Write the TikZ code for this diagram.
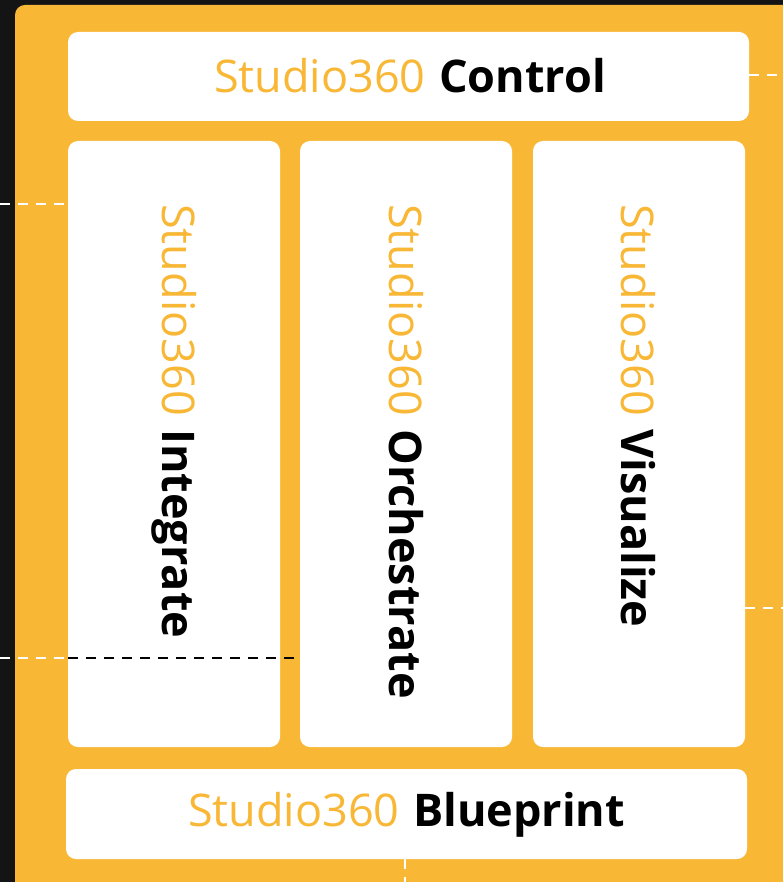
\documentclass[tikz,border=0pt]{standalone}
\usepackage{fontspec}
\newfontfamily\lightfont{Open Sans}
\newfontfamily\heavyfont{Open Sans}
\definecolor{bg}{HTML}{141414}
\definecolor{frame}{HTML}{F9B736}
\definecolor{lbl}{HTML}{F9B736}
\tikzset{
  ttl/.style={inner sep=0pt, font=\fontsize{45}{50}\selectfont},
  link/.style={draw=white, line width=1.8pt, dash pattern=on 10pt off 8pt},
  innerlink/.style={draw=black, line width=1.8pt, dash pattern=on 10pt off 8pt},
  slot/.style={minimum width=212pt, minimum height=606pt, inner sep=0pt},
}
\newcommand{\twopart}[1]{{\lightfont\color{lbl}Studio360} {\heavyfont\bfseries #1}}
\begin{document}
\begin{tikzpicture}[x=1pt,y=-1pt]
\fill[bg] (0,0) rectangle (783,882);
\useasboundingbox (0,0) rectangle (783,882);
\fill[frame, rounded corners=10pt] (15,5) rectangle (800,900);
% panels
\fill[white, rounded corners=10pt] (68,32) rectangle (749,121);
\fill[white, rounded corners=10pt] (68,141) rectangle (280,747);
\fill[white, rounded corners=10pt] (300,141) rectangle (512,747);
\fill[white, rounded corners=10pt] (533,141) rectangle (745,747);
\fill[white, rounded corners=10pt] (66,769) rectangle (747,859);
\node (ctl) at (408.5,76.5) [minimum width=681pt, minimum height=89pt, inner sep=0pt] {};
\node[slot] (int) at (174,444) {};
\node[slot] (orc) at (406,444) {};
\node[slot] (vis) at (639,444) {};
\node (blu) at (406.5,814) [minimum width=681pt, minimum height=90pt, inner sep=0pt] {};
% texts
\node[ttl] (tctl) at (410,76) {\twopart{Control}};
\node[ttl] (tblu) at (406.5,815) {\twopart{Blueprint}};
\node[ttl, rotate=-90, anchor=west] (tint) at (174,204) {\twopart{Integrate}};
\node[ttl, rotate=-90, anchor=west] (torc) at (406,204) {\twopart{Orchestrate}};
\node[ttl, rotate=-90, anchor=west] (tvis) at (638,204) {\twopart{Visualize}};
% connectors
\coordinate (l1) at (0,204);
\coordinate (l2) at (0,658);
\coordinate (r1) at (783,75);
\coordinate (r2) at (783,608);
\coordinate (b1) at (405,882);
\draw[link] (l1) -- (int.west |- l1);
\draw[link] (l2) -- (int.west |- l2);
\draw[innerlink] (int.west |- l2) -- (orc.west |- l2);
\draw[link] (ctl.east |- r1) -- (r1);
\draw[link] (vis.east |- r2) -- (r2);
\draw[link] (blu.south -| b1) -- (b1);
\end{tikzpicture}
\end{document}
